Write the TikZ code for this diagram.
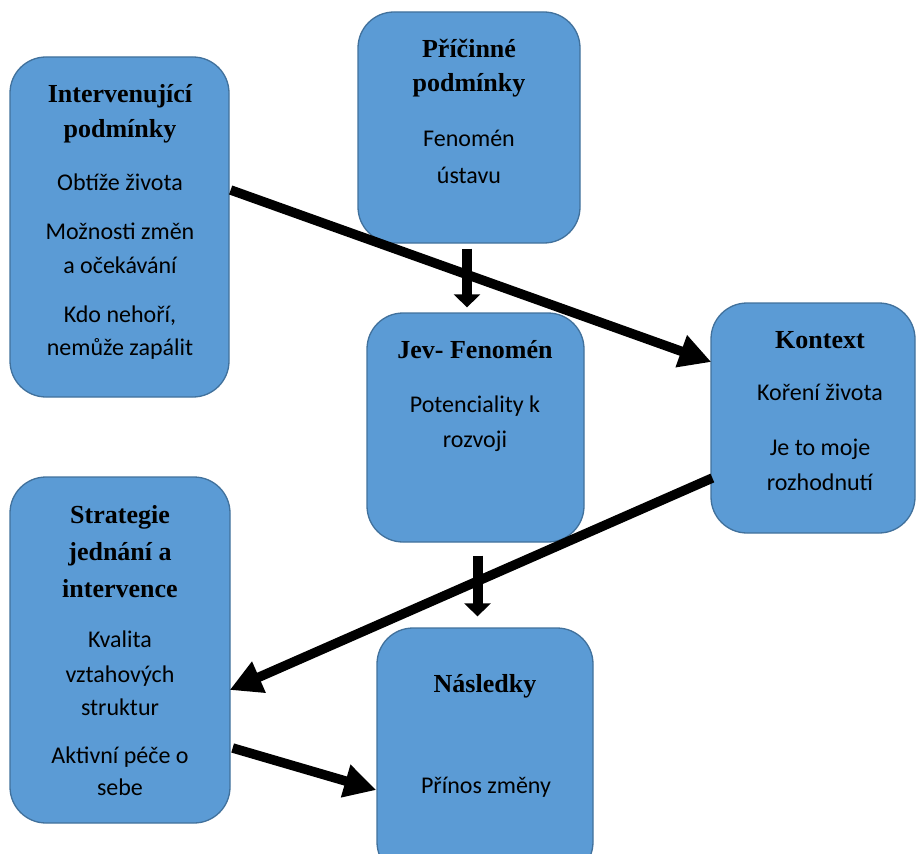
\documentclass[tikz,border=0pt]{standalone}
\usepackage{fontspec}
\setmainfont{Carlito}
\newfontfamily\titlefont{Liberation Serif}
\usetikzlibrary{arrows.meta}
\definecolor{boxfill}{HTML}{5B9BD5}
\definecolor{boxline}{HTML}{41719C}

\begin{document}
\begin{tikzpicture}[x=1pt,y=-1pt]
  \tikzstyle{box}=[draw=boxline,fill=boxfill,line width=1.3pt,rounded corners=36pt,inner sep=0pt]
  \tikzstyle{ttl}=[anchor=base,inner sep=0pt,font=\titlefont\bfseries\fontsize{26}{30}\selectfont]
  \tikzstyle{txt}=[anchor=base,inner sep=0pt,font=\fontsize{24}{28}\selectfont]
  \tikzstyle{bigarrow}=[line width=9.5pt,-{Triangle[length=32pt,width=32pt]}]
  \tikzstyle{downarrow}=[line width=10pt,-{Triangle[length=13pt,width=26pt]}]
  \useasboundingbox (0,0) rectangle (917,853);
  % boxes
  \node [box,minimum width=219pt,minimum height=340pt] (int) at (119.5,227) {};
  \node [box,minimum width=222pt,minimum height=231pt] (cause) at (469,127.5) {};
  \node [box,minimum width=217pt,minimum height=229pt] (jev) at (475.5,427.5) {};
  \node [box,minimum width=204pt,minimum height=230pt] (ctx) at (813,418) {};
  \node [box,minimum width=220pt,minimum height=346pt] (strat) at (120,650) {};
  \node [box,minimum width=216pt,minimum height=250pt] (nasl) at (485,753) {};
  % Intervenujici podminky
  \node [ttl] (int1) at (120,103) {Intervenující};
  \node [ttl] (int2) at (120,138) {podmínky};
  \node [txt] (int3) at (120,190) {Obtíže života};
  \node [txt] (int4) at (120,239) {Možnosti změn};
  \node [txt] (int5) at (120,273) {a očekávání};
  \node [txt] (int6) at (120,322) {Kdo nehoří,};
  \node [txt] (int7) at (120,355) {nemůže zapálit};
  % Pricinne podminky
  \node [ttl] (cause1) at (469,58) {Příčinné};
  \node [ttl] (cause2) at (469,92) {podmínky};
  \node [txt] (cause3) at (469,147) {Fenomén};
  \node [txt] (cause4) at (469,183) {ústavu};
  % Jev
  \node [ttl] (jev1) at (475,358) {Jev- Fenomén};
  \node [txt] (jev2) at (475,412) {Potenciality k};
  \node [txt] (jev3) at (475,447) {rozvoji};
  % Kontext
  \node [ttl] (ctx1) at (820,348) {Kontext};
  \node [txt] (ctx2) at (820,400) {Koření života};
  \node [txt] (ctx3) at (820,455) {Je to moje};
  \node [txt] (ctx4) at (820,490) {rozhodnutí};
  % Strategie
  \node [ttl] (strat1) at (120,523) {Strategie};
  \node [ttl] (strat2) at (120,560) {jednání a};
  \node [ttl] (strat3) at (120,597) {intervence};
  \node [txt] (strat4) at (120,647) {Kvalita};
  \node [txt] (strat5) at (120,682) {vztahových};
  \node [txt] (strat6) at (120,715) {struktur};
  \node [txt] (strat7) at (120,763) {Aktivní péče o};
  \node [txt] (strat8) at (120,795) {sebe};
  % Nasledky
  \node [ttl] (nasl1) at (485,692) {Následky};
  \node [txt] (nasl2) at (486,793) {Přínos změny};
  % arrows
  \draw [downarrow] ([shift={(-2,5)}]cause.south) -- ([shift={(-8.5,-5)}]jev.north);
  \draw [downarrow] ([shift={(2,13)}]jev.south) -- ([shift={(-7.5,-11)}]nasl.north);
  \draw [bigarrow] ([shift={(1,-37)}]int.east) -- ([shift={(1,-56)}]ctx.west);
  \draw [bigarrow] ([shift={(2,60)}]ctx.west) -- ([shift={(-1,40)}]strat.east);
  \draw [bigarrow] ([shift={(2,98)}]strat.east) -- ([shift={(0,37)}]nasl.west);
\end{tikzpicture}
\end{document}
